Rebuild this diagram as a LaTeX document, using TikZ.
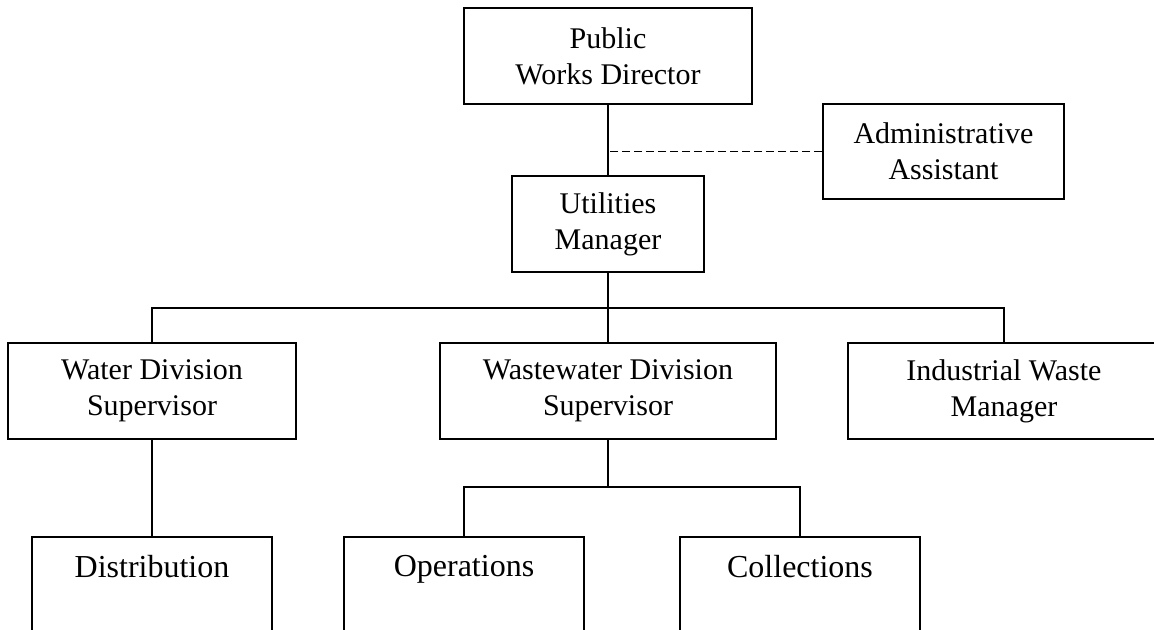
\documentclass[tikz,border=0pt]{standalone}
\usepackage{fontspec}
\setmainfont{Liberation Serif}
\usetikzlibrary{positioning}

\tikzset{
	orgbox/.style={draw, line width=1.3pt, rectangle, align=center, inner sep=0pt,
		minimum height=72pt, font=\fontsize{22.5}{27}\selectfont},
	subbox/.style={draw, line width=1.3pt, rectangle, minimum width=180pt, minimum height=97.5pt, anchor=north},
	subtext/.style={inner sep=0pt, font=\fontsize{24}{28}\selectfont},
	link/.style={line width=1pt}
}

\begin{document}
\begin{tikzpicture}[x=0.75pt, y=-0.75pt]
	\useasboundingbox (0,0) rectangle (1154,629);
	\clip (0,0) rectangle (1154,629);
	% top of the chart
	\node[orgbox, minimum width=216pt] (pwd) at (608,56) {Public\\Works Director};
	\node[orgbox, minimum width=144pt] (util) at (608,224) {Utilities\\Manager};
	\node[orgbox, minimum width=180.75pt, minimum height=71.25pt] (admin) at (943.5,151.5) {Administrative\\Assistant};
	% divisions
	\node[orgbox, minimum width=216pt] (water) at (152,391) {Water Division\\Supervisor};
	\node[orgbox, minimum width=252pt] (waste) at (608,391) {Wastewater Division\\Supervisor};
	\node[orgbox, minimum width=234pt] (indus) at (1004,391) {Industrial Waste\\Manager};
	% sections (cut off at the bottom)
	\node[subbox] (dist) at (152,536) {};
	\node[subbox] (ops) at (464,536) {};
	\node[subbox] (coll) at (800,536) {};
	\node[subtext, below=14pt of dist.north] (disttxt) {Distribution};
	\node[subtext, below=14pt of ops.north] (opstxt) {Operations};
	\node[subtext, below=14pt of coll.north] (colltxt) {Collections};
	% connectors
	\coordinate (bus) at (608,308);
	\coordinate (subbus) at (608,487);
	\draw[link] (pwd.south) -- (util.north);
	\draw[link, line width=1.2pt, dash pattern=on 6pt off 3pt] (admin.west) -- (admin.west -| pwd.south);
	\draw[link] (util.south) -- (bus);
	\draw[link] (water.north) |- (bus) -| (indus.north);
	\draw[link] (bus) -- (waste.north);
	\draw[link] (water.south) -- (dist.north);
	\draw[link] (waste.south) -- (subbus);
	\draw[link] (ops.north) |- (subbus) -| (coll.north);
\end{tikzpicture}
\end{document}
